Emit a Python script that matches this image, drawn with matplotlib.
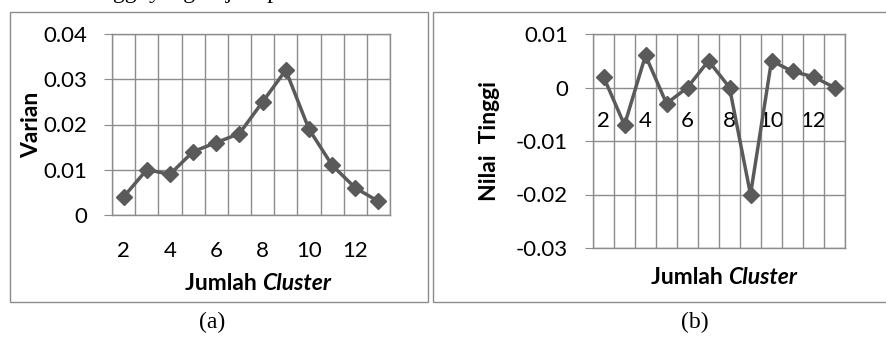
import matplotlib
matplotlib.use("Agg")
import matplotlib.pyplot as plt
from matplotlib.patches import Rectangle

# data
cluster = [2, 3, 4, 5, 6, 7, 8, 9, 10, 11, 12, 13]
varian = [0.004, 0.010, 0.009, 0.014, 0.016, 0.018, 0.025, 0.032, 0.019, 0.011, 0.006, 0.003]
nilai_tinggi = [0.002, -0.007, 0.006, -0.003, 0.0, 0.005, 0.0, -0.020, 0.005, 0.003, 0.002, 0.0]
xtick_labels = [2, 4, 6, 8, 10, 12]
yticks_a = [0, 0.01, 0.02, 0.03, 0.04]
yticks_b = [-0.03, -0.02, -0.01, 0, 0.01]

W, H = 886, 338
LINE = "#5a5a5a"
GRID = "#8c8c8c"
FONT = "Lato"
TICK_FS = 16
LABEL_FS = 16.5

fig = plt.figure(figsize=(W / 100, H / 100), dpi=100)


def fx(px):
    return px / W


def fy(py):
    return 1 - py / H


def style_axes(ax, yticks, ylim):
    ax.set_xlim(1.5, 13.5)
    ax.set_ylim(*ylim)
    ax.set_yticks(yticks)
    ax.set_yticklabels(["0" if v == 0 else f"{v:g}" for v in yticks])
    ax.set_xticks(xtick_labels)
    ax.set_xticklabels([str(v) for v in xtick_labels])
    ax.set_xticks([c + 0.5 for c in [1] + cluster], minor=True)
    ax.grid(True, which="minor", axis="x", color=GRID, lw=1)
    ax.grid(True, which="major", axis="y", color=GRID, lw=1)
    ax.tick_params(axis="y", length=6, color=GRID, pad=12)
    ax.tick_params(axis="x", which="both", length=0)
    for s in ax.spines.values():
        s.set_color(GRID)
        s.set_linewidth(1)
    ax.set_axisbelow(True)


def set_tick_font(ax):
    for lab in ax.get_xticklabels() + ax.get_yticklabels():
        lab.set_fontfamily(FONT)
        lab.set_fontsize(TICK_FS)


# (a) Varian
ax1 = fig.add_axes([fx(112), fy(215), fx(390 - 112), (215 - 34) / H])
ax1.plot(cluster, varian, color=LINE, lw=2.5, marker="D", ms=8.5, zorder=3)
style_axes(ax1, yticks_a, (0, 0.04))
ax1.tick_params(axis="x", pad=19)
set_tick_font(ax1)

# (b) Nilai Tinggi
ax2 = fig.add_axes([fx(593), fy(248), fx(845 - 593), (248 - 34) / H])
ax2.plot(cluster, nilai_tinggi, color=LINE, lw=2.5, marker="D", ms=8.5, zorder=3)
style_axes(ax2, yticks_b, (-0.03, 0.01))
ax2.spines["bottom"].set_position(("data", 0))
ax2.spines["bottom"].set_visible(False)
ax2.plot([1.5, 13.5], [-0.03, -0.03], color=GRID, lw=1, clip_on=False, zorder=1)
ax2.tick_params(axis="x", pad=17)
set_tick_font(ax2)

# axis titles
fig.text(fx(32), fy(125), "Varian", rotation=90, ha="center", va="center",
         fontfamily=FONT, fontweight="bold", fontsize=LABEL_FS)
fig.text(fx(262), fy(283), "Jumlah ", ha="right", va="center",
         fontfamily=FONT, fontweight="bold", fontsize=LABEL_FS)
fig.text(fx(262), fy(283), "Cluster", ha="left", va="center",
         fontfamily=FONT, fontweight="bold", fontstyle="italic", fontsize=LABEL_FS)

fig.text(fx(490), fy(141), "Nilai  Tinggi", rotation=90, ha="center", va="center",
         fontfamily=FONT, fontweight="bold", fontsize=LABEL_FS)
fig.text(fx(728), fy(278), "Jumlah ", ha="right", va="center",
         fontfamily=FONT, fontweight="bold", fontsize=LABEL_FS)
fig.text(fx(728), fy(278), "Cluster", ha="left", va="center",
         fontfamily=FONT, fontweight="bold", fontstyle="italic", fontsize=LABEL_FS)

# panel frames
fig.add_artist(Rectangle((fx(10), fy(302)), fx(428 - 10), (302 - 12) / H,
                         transform=fig.transFigure, fill=False, ec=GRID, lw=1))
fig.add_artist(Rectangle((fx(433), fy(302)), fx(500), (302 - 12) / H,
                         transform=fig.transFigure, fill=False, ec=GRID, lw=1))

# captions
fig.text(fx(212), fy(322), "(a)", ha="center", va="center",
         fontfamily="Liberation Serif", fontsize=17)
fig.text(fx(695), fy(322), "(b)", ha="center", va="center",
         fontfamily="Liberation Serif", fontsize=17)

# clipped line of body text above the figure
fig.text(fx(40), fy(-2), "nilai tinggi yang terjadi pada Gambar 4.", ha="left", va="baseline",
         fontfamily="Liberation Serif", fontsize=17)

fig.savefig("out.png", dpi=100)
